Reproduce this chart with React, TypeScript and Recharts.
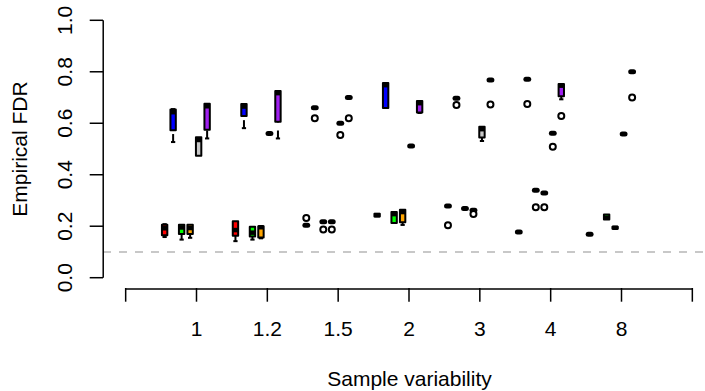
import React from "react"
import { ComposedChart, XAxis, YAxis, Scatter, ReferenceArea, ReferenceLine } from "recharts"

const FONT = "'Liberation Sans', Arial, Helvetica, sans-serif"

// sample variability levels (x categories)
const groups = ["1", "1.2", "1.5", "2", "3", "4", "8"]
const yTicks = [0, 0.2, 0.4, 0.6, 0.8, 1]
const fdrTarget = 0.1

// per method: [min, q1, median, q3, max] for every group (null = no data)
type Stats = [number, number, number, number, number] | null

const redStats: Stats[] = [
  [0.158, 0.165, 0.192, 0.206, 0.208],
  [0.142, 0.163, 0.185, 0.219, 0.219],
  [0.204, 0.204, 0.204, 0.204, 0.204],
  [0.238, 0.238, 0.243, 0.248, 0.248],
  [0.279, 0.279, 0.279, 0.279, 0.279],
  [0.178, 0.178, 0.178, 0.178, 0.178],
  [0.169, 0.169, 0.169, 0.169, 0.169],
]
const blueStats: Stats[] = [
  [0.527, 0.573, 0.643, 0.653, 0.655],
  [0.581, 0.628, 0.665, 0.675, 0.675],
  [0.66, 0.66, 0.66, 0.66, 0.66],
  [0.659, 0.659, 0.748, 0.756, 0.756],
  [0.697, 0.697, 0.697, 0.697, 0.697],
  [0.771, 0.771, 0.771, 0.771, 0.771],
  null,
]
const greenStats: Stats[] = [
  [0.148, 0.17, 0.195, 0.206, 0.206],
  [0.148, 0.16, 0.175, 0.198, 0.198],
  [0.217, 0.217, 0.217, 0.217, 0.217],
  [0.213, 0.213, 0.247, 0.255, 0.255],
  [0.269, 0.269, 0.269, 0.269, 0.269],
  [0.34, 0.34, 0.34, 0.34, 0.34],
  [0.226, 0.226, 0.233, 0.246, 0.246],
]
const orangeStats: Stats[] = [
  [0.155, 0.17, 0.193, 0.206, 0.206],
  [0.153, 0.156, 0.196, 0.2, 0.2],
  [0.217, 0.217, 0.217, 0.217, 0.217],
  [0.205, 0.215, 0.255, 0.264, 0.264],
  [0.262, 0.262, 0.262, 0.262, 0.262],
  [0.329, 0.329, 0.329, 0.329, 0.329],
  [0.19, 0.19, 0.194, 0.198, 0.198],
]
const grayStats: Stats[] = [
  [0.474, 0.474, 0.535, 0.546, 0.546],
  [0.56, 0.56, 0.56, 0.56, 0.56],
  [0.6, 0.6, 0.6, 0.6, 0.6],
  [0.512, 0.512, 0.512, 0.512, 0.512],
  [0.531, 0.545, 0.577, 0.586, 0.586],
  [0.561, 0.561, 0.561, 0.561, 0.561],
  [0.558, 0.558, 0.558, 0.558, 0.558],
]
const purpleStats: Stats[] = [
  [0.541, 0.575, 0.666, 0.676, 0.676],
  [0.541, 0.606, 0.717, 0.725, 0.725],
  [0.7, 0.7, 0.7, 0.7, 0.7],
  [0.64, 0.642, 0.678, 0.686, 0.686],
  [0.768, 0.768, 0.768, 0.768, 0.768],
  [0.693, 0.705, 0.746, 0.753, 0.753],
  [0.8, 0.8, 0.8, 0.8, 0.8],
]

// outliers per group
const redOutliers = [[], [], [0.232], [], [0.204], [], []]
const blueOutliers = [[], [], [0.619], [], [0.671], [0.675], []]
const greenOutliers = [[], [], [0.187], [], [], [0.274], []]
const orangeOutliers = [[], [], [0.187], [], [0.247], [0.274], []]
const grayOutliers = [[], [], [0.554], [], [], [0.509], []]
const purpleOutliers = [[], [], [0.619], [], [0.673], [0.628], [0.7]]

const methods = [
  { stats: redStats, outliers: redOutliers, color: "#ff0000" },
  { stats: blueStats, outliers: blueOutliers, color: "#0000ff" },
  { stats: greenStats, outliers: greenOutliers, color: "#00ff00" },
  { stats: orangeStats, outliers: orangeOutliers, color: "#ffa500" },
  { stats: grayStats, outliers: grayOutliers, color: "#c8c8c8" },
  { stats: purpleStats, outliers: purpleOutliers, color: "#a020f0" },
]

// box position inside a group, relative to the group tick
const offsets = [-0.45, -0.33, -0.21, -0.09, 0.03, 0.15]
const HALF = 0.038
const STAPLE = 0.03

const outlierPoints = methods.flatMap((m, mi) =>
  m.outliers.flatMap((vals, gi) => vals.map((v) => ({ x: gi + 1 + offsets[mi], y: v })))
)

function boxes() {
  const out: React.ReactNode[] = []
  methods.forEach((m, mi) => {
    m.stats.forEach((s, gi) => {
      if (!s) return
      const x = gi + 1 + offsets[mi]
      const [lo, q1, med, q3, hi] = s
      const k = `${mi}-${gi}`
      if (lo < q1) {
        out.push(
          <ReferenceLine key={k + "wl"} segment={[{ x, y: lo }, { x, y: q1 }]} stroke="#000" strokeWidth={2} strokeDasharray="8 8" />,
          <ReferenceLine key={k + "cl"} segment={[{ x: x - STAPLE, y: lo }, { x: x + STAPLE, y: lo }]} stroke="#000" strokeWidth={2} />
        )
      }
      if (hi > q3) {
        out.push(
          <ReferenceLine key={k + "wh"} segment={[{ x, y: hi }, { x, y: q3 }]} stroke="#000" strokeWidth={2} strokeDasharray="8 8" />,
          <ReferenceLine key={k + "ch"} segment={[{ x: x - STAPLE, y: hi }, { x: x + STAPLE, y: hi }]} stroke="#000" strokeWidth={2} />
        )
      }
      const flat = q3 - q1 < 0.001
      if (!flat) {
        out.push(
          <ReferenceArea key={k + "b"} x1={x - HALF} x2={x + HALF} y1={q1} y2={q3} fill={m.color} fillOpacity={1} stroke="#000" strokeWidth={2} strokeLinejoin="round" />
        )
      }
      out.push(
        flat ? (
          <ReferenceLine key={k + "m"} segment={[{ x: x - 0.02, y: med }, { x: x + 0.02, y: med }]} stroke="#000" strokeWidth={5} strokeLinecap="round" />
        ) : (
          <ReferenceLine key={k + "m"} segment={[{ x: x - HALF, y: med }, { x: x + HALF, y: med }]} stroke="#000" strokeWidth={4.5} />
        )
      )
    })
  })
  return out
}

const Ring = (p: any) => <circle cx={p.cx} cy={p.cy} r={3} fill="#fff" stroke="#000" strokeWidth={2} />

const XTick = (p: any) => {
  const v = p.payload.value
  const label = v >= 1 && v <= groups.length ? groups[v - 1] : ""
  return (
    <g>
      <line x1={p.x} x2={p.x} y1={p.y} y2={p.y + 13.7} stroke="#000" strokeWidth={1.5} />
      {label && (
        <text x={p.x} y={p.y + 47.5} textAnchor="middle" fontSize={21} fill="#000" fontFamily={FONT}>
          {label}
        </text>
      )}
    </g>
  )
}

const YTick = (p: any) => {
  const tx = p.x - 31
  return (
    <g>
      <line x1={p.x - 13.3} x2={p.x} y1={p.y} y2={p.y} stroke="#000" strokeWidth={1.5} />
      <text x={tx} y={p.y} transform={`rotate(-90 ${tx} ${p.y})`} textAnchor="middle" fontSize={21} fill="#000" fontFamily={FONT}>
        {p.payload.value.toFixed(1)}
      </text>
    </g>
  )
}

export default function App() {
  return (
    <div style={{ position: "absolute", left: 0, top: 0, width: 705, height: 391, overflow: "hidden", background: "#fff" }}>
      <ComposedChart width={715} height={391} margin={{ top: 10, right: 0, bottom: 0, left: 0 }}>
        <XAxis
          type="number"
          dataKey="x"
          domain={[-0.32, 8.32]}
          ticks={[0, 1, 2, 3, 4, 5, 6, 7, 8]}
          interval={0}
          allowDataOverflow
          axisLine={false}
          tickLine={false}
          tickSize={0}
          tickMargin={0}
          tick={XTick}
          height={103}
        />
        <YAxis
          type="number"
          domain={[-0.04, 1.04]}
          ticks={yTicks}
          interval={0}
          allowDataOverflow
          axisLine={false}
          tickLine={false}
          tickSize={0}
          tickMargin={0}
          tick={YTick}
          width={103}
        />
        <ReferenceLine y={fdrTarget} stroke="#c8c8c8" strokeWidth={2} strokeDasharray="8 8" />
        {boxes()}
        <Scatter data={outlierPoints} dataKey="y" shape={Ring} isAnimationActive={false} />
        <ReferenceLine segment={[{ x: 0, y: -0.044 }, { x: 8, y: -0.044 }]} stroke="#000" strokeWidth={1.5} ifOverflow="visible" />
        <ReferenceLine segment={[{ x: -0.317, y: 0 }, { x: -0.317, y: 1 }]} stroke="#000" strokeWidth={1.5} ifOverflow="visible" />
      </ComposedChart>
      <svg width={705} height={391} style={{ position: "absolute", left: 0, top: 0, pointerEvents: "none" }}>
        <text x={409.5} y={385.5} textAnchor="middle" fontSize={21} fontFamily={FONT} fill="#000">
          Sample variability
        </text>
        <text x={26.5} y={149} transform="rotate(-90 26.5 149)" textAnchor="middle" fontSize={21} fontFamily={FONT} fill="#000">
          Empirical FDR
        </text>
      </svg>
    </div>
  )
}
